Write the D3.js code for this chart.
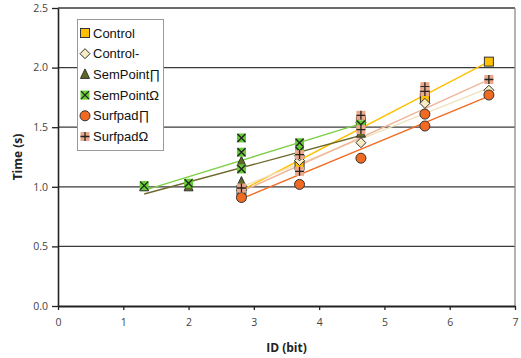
<!DOCTYPE html>
<html><head><meta charset="utf-8">
<script src="https://cdn.jsdelivr.net/npm/d3@7"></script>
<style>body{margin:0;background:#fff;} svg{display:block;}</style>
</head><body>
<svg id="c" width="521" height="358"></svg>
<script>
const seriesNames = ["Control","Control-","SemPoint∏","SemPointΩ","Surfpad∏","SurfpadΩ"];
const controlX = [2.81, 3.7, 4.64, 5.62, 5.62, 6.6];
const controlY = [0.97, 1.18, 1.55, 1.77, 1.74, 2.05];
const controlMinusX = [2.81, 3.7, 3.7, 4.64, 4.64, 5.62, 6.6];
const controlMinusY = [0.97, 1.22, 1.26, 1.54, 1.37, 1.70, 1.81];
const semPiX = [1.32, 2.0, 2.81, 2.81, 3.7, 4.64];
const semPiY = [1.00, 1.00, 1.21, 1.04, 1.27, 1.45];
const semOmegaX = [1.32, 2.0, 2.81, 2.81, 2.81, 3.7, 3.7, 4.64];
const semOmegaY = [1.01, 1.03, 1.41, 1.29, 1.15, 1.37, 1.30, 1.52];
const surfPiX = [2.81, 3.7, 4.64, 5.62, 5.62, 6.6];
const surfPiY = [0.91, 1.02, 1.24, 1.61, 1.51, 1.77];
const surfOmegaX = [2.81, 3.7, 3.7, 4.64, 4.64, 5.62, 5.62, 6.6];
const surfOmegaY = [0.99, 1.13, 1.27, 1.60, 1.48, 1.84, 1.80, 1.90];
// trend line endpoints [x0, x1] and [y0, y1]
const trendX = [[2.81,6.6],[2.81,6.6],[1.32,4.64],[1.32,4.64],[2.81,6.6],[2.81,6.6]];
const trendY = [[0.97,2.05],[1.00,1.83],[0.94,1.43],[0.97,1.53],[0.90,1.76],[0.96,1.90]];
const xTicks = [0,1,2,3,4,5,6,7];
const yTicks = [0.0,0.5,1.0,1.5,2.0,2.5];

const styles = [
  {shape:"square", fill:"#FFC000", line:"#FFC000"},
  {shape:"diamond", fill:"#F7EBC4", line:"#EFE2BC"},
  {shape:"triangle", fill:"#5E6A22", line:"#6E6A2E"},
  {shape:"cross", fill:"#66CC33", line:"#7FCF4A"},
  {shape:"circle", fill:"#F26A21", line:"#F26A21"},
  {shape:"plus", fill:"#EBA88A", line:"#F0B69B"}
];
const xs = [controlX, controlMinusX, semPiX, semOmegaX, surfPiX, surfOmegaX];
const ys = [controlY, controlMinusY, semPiY, semOmegaY, surfPiY, surfOmegaY];

const svg = d3.select("#c");
const L = 58, R = 515, T = 8, B = 306;
const x = d3.scaleLinear().domain([0,7]).range([L,R]);
const y = d3.scaleLinear().domain([0,2.5]).range([B,T]);

// gridlines
svg.append("g").selectAll("line").data(yTicks.filter(v=>v>0)).join("line")
  .attr("x1",L).attr("x2",R).attr("y1",d=>y(d)).attr("y2",d=>y(d))
  .attr("stroke","#3a3a3a").attr("stroke-width",1.3);
// right border
svg.append("line").attr("x1",R).attr("x2",R).attr("y1",T).attr("y2",B)
  .attr("stroke","#8a8a8a").attr("stroke-width",1.3);

// axes
const yAxis = d3.axisLeft(y).tickValues(yTicks).tickFormat(d3.format(".1f")).tickSize(6).tickSizeOuter(0);
const gy = svg.append("g").attr("transform",`translate(${L},0)`).call(yAxis);
gy.select(".domain").attr("stroke","#222").attr("stroke-width",1.6);
gy.selectAll(".tick line").attr("stroke","#222").attr("stroke-width",1.3);
gy.selectAll("text").attr("font-family","Open Sans, Noto Sans, sans-serif").attr("font-size",10.5).attr("fill","#444").attr("x",-10);

const xAxis = d3.axisBottom(x).tickValues(xTicks).tickFormat(d3.format("d")).tickSize(4).tickSizeOuter(0);
const gx = svg.append("g").attr("transform",`translate(0,${B})`).call(xAxis);
gx.select(".domain").attr("stroke","#222").attr("stroke-width",2);
gx.selectAll(".tick line").attr("stroke","#222").attr("stroke-width",1.3);
gx.selectAll("text").attr("font-family","Open Sans, Noto Sans, sans-serif").attr("font-size",10.5).attr("fill","#444").attr("y",13);

svg.append("text").attr("x",(L+R)/2).attr("y",352).attr("text-anchor","middle")
  .attr("font-family","Open Sans, Noto Sans, sans-serif").attr("font-weight","bold").attr("font-size",12).attr("fill","#222").text("ID (bit)");
svg.append("text").attr("transform","translate(22,157) rotate(-90)").attr("text-anchor","middle")
  .attr("font-family","Open Sans, Noto Sans, sans-serif").attr("font-weight","bold").attr("font-size",12).attr("fill","#222").text("Time (s)");

// trend lines
const lg = svg.append("g");
trendX.forEach((tx,i)=>{
  lg.append("line").attr("x1",x(tx[0])).attr("x2",x(tx[1])).attr("y1",y(trendY[i][0])).attr("y2",y(trendY[i][1]))
    .attr("stroke",styles[i].line).attr("stroke-width",1.4);
});

function drawMarker(g, shape, fill, cx, cy){
  const st = "#333";
  if(shape==="square"){
    g.append("rect").attr("x",cx-4.5).attr("y",cy-4.5).attr("width",9).attr("height",9).attr("fill",fill).attr("stroke",st).attr("stroke-width",1);
  } else if(shape==="diamond"){
    g.append("path").attr("d",`M${cx},${cy-5}L${cx+5},${cy}L${cx},${cy+5}L${cx-5},${cy}Z`).attr("fill",fill).attr("stroke",st).attr("stroke-width",1);
  } else if(shape==="triangle"){
    g.append("path").attr("d",`M${cx},${cy-5.5}L${cx+4.5},${cy+4}L${cx-4.5},${cy+4}Z`).attr("fill",fill).attr("stroke",st).attr("stroke-width",1);
  } else if(shape==="circle"){
    g.append("circle").attr("cx",cx).attr("cy",cy).attr("r",5).attr("fill",fill).attr("stroke",st).attr("stroke-width",1);
  } else if(shape==="cross"){
    g.append("rect").attr("x",cx-4.5).attr("y",cy-4.5).attr("width",9).attr("height",9).attr("fill",fill);
    g.append("path").attr("d",`M${cx-4},${cy-4}L${cx+4},${cy+4}M${cx+4},${cy-4}L${cx-4},${cy+4}`).attr("stroke","#222").attr("stroke-width",1.3);
  } else if(shape==="plus"){
    g.append("rect").attr("x",cx-4.5).attr("y",cy-4.5).attr("width",9).attr("height",9).attr("fill",fill);
    g.append("path").attr("d",`M${cx-4.5},${cy}L${cx+4.5},${cy}M${cx},${cy-4.5}L${cx},${cy+4.5}`).attr("stroke","#222").attr("stroke-width",1.3);
  }
}

// points
const pg = svg.append("g");
xs.forEach((arr,i)=>{
  arr.forEach((xv,j)=> drawMarker(pg, styles[i].shape, styles[i].fill, x(xv), y(ys[i][j])));
});

// legend
const leg = svg.append("g");
leg.append("rect").attr("x",77.5).attr("y",19.5).attr("width",86).attr("height",131)
  .attr("fill","#fff").attr("stroke","#999").attr("stroke-width",1);
seriesNames.forEach((n,i)=>{
  const cy = 33 + i*20.7;
  drawMarker(leg, styles[i].shape, styles[i].fill, 85, cy);
  leg.append("text").attr("x",93).attr("y",cy+4.5).attr("font-family","Liberation Sans, Arial, sans-serif")
    .attr("font-size",13).attr("fill","#111").text(n);
});
</script>
</body></html>
